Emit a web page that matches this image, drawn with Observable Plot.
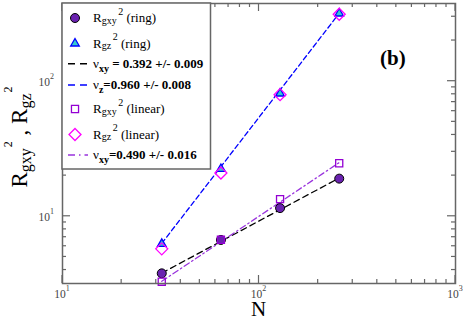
<!DOCTYPE html>
<html><head><meta charset="utf-8">
<script src="https://cdn.jsdelivr.net/npm/d3@7"></script>
<script src="https://cdn.jsdelivr.net/npm/@observablehq/plot@0.6"></script>
<style>
html,body{margin:0;padding:0;background:#fff;}
#chart{width:463px;height:320px;}
svg{display:block;}
</style></head><body><div id="chart"></div>
<script>
// ---- data ----
const N = [32, 64, 128, 256];
const rgxyRing = [3.78, 6.68, 11.5, 19.0];
const rgzRing = [6.25, 22.4, 81.1, 317];
const rgxyLinear = [3.28, 6.7, 13.4, 24.7];
const rgzLinear = [5.74, 20.9, 79.5, 313];
const fitN = [32, 256];
const fitXyRing = [3.8, 19.2];
const fitZRing = [6.3, 318];
const fitXyLinear = [3.3, 25.0];
const xMajor = [10, 100, 1000];
const xExp = ["1", "2", "3"];
const yMajor = [10, 100];
const yExp = ["1", "2"];
const legendText = [
  ["R", "gxy", "2", " (ring)"],
  ["R", "gz", "2", " (ring)"],
  ["\u03bd", "xy", " = 0.392 +/- 0.009"],
  ["\u03bd", "z", "=0.960 +/- 0.008"],
  ["R", "gxy", "2", " (linear)"],
  ["R", "gz", "2", " (linear)"],
  ["\u03bd", "xy", "=0.490 +/- 0.016"]
];

const rows = ys => N.map((n, i) => ({N: n, R: ys[i]}));
const fit = ys => fitN.map((n, i) => ({N: n, R: ys[i]}));
const serif = "'Liberation Serif','Times New Roman',serif";

const C = {circle: "#6a22b0", tri: "#33cccc", blue: "#0000ff", sq: "#9400d3", dia: "#ff00ff", dd: "#9933dd"};

const chart = Plot.plot({
  width: 463, height: 320,
  marginLeft: 62, marginRight: 8, marginTop: 3, marginBottom: 37,
  x: {type: "log", domain: [10, 1000], axis: null},
  y: {type: "log", domain: [3.18, 376], axis: null},
  style: {background: "white", fontFamily: serif},
  marks: [
    Plot.line(fit(fitXyRing), {x: "N", y: "R", stroke: "black", strokeWidth: 1.3, strokeDasharray: "6,4"}),
    Plot.line(fit(fitZRing), {x: "N", y: "R", stroke: C.blue, strokeWidth: 1.3, strokeDasharray: "5,3"}),
    Plot.line(fit(fitXyLinear), {x: "N", y: "R", stroke: C.dd, strokeWidth: 1.3, strokeDasharray: "6,3,1.5,3"}),
    Plot.dot(rows(rgxyRing), {x: "N", y: "R", r: 4.5, fill: C.circle, stroke: "black", strokeWidth: 1}),
    Plot.dot(rows(rgzRing), {x: "N", y: "R", symbol: "triangle", r: 3.2, fill: C.tri, stroke: C.blue, strokeWidth: 1.3}),
    Plot.dot(rows(rgxyLinear), {x: "N", y: "R", symbol: "square", r: 4, fill: "none", stroke: C.sq, strokeWidth: 1.3}),
    Plot.dot(rows(rgzLinear), {x: "N", y: "R", symbol: "diamond2", r: 5.4, fill: "none", stroke: C.dia, strokeWidth: 1.3}),
    Plot.frame({stroke: "#666", strokeWidth: 1.5})
  ]
});
document.getElementById("chart").appendChild(chart);

const svg = d3.select(chart);
const sx = v => chart.scale("x").apply(v);
const sy = v => chart.scale("y").apply(v);
const xd = chart.scale("x").domain, yd = chart.scale("y").domain;
const X0 = sx(xd[0]), X1 = sx(xd[1]), Y1 = sy(yd[0]), Y0 = sy(yd[1]);

// ticks (inward, all four sides)
const tg = svg.append("g").attr("stroke", "#666").attr("stroke-width", 1.2);
const minorOf = (lo, hi) => { const out = []; for (let e = Math.floor(Math.log10(lo)); e <= Math.ceil(Math.log10(hi)); e++) for (let k = 2; k <= 9; k++) { const v = k * Math.pow(10, e); if (v > lo && v < hi) out.push(v); } return out; };
const xt = xMajor.map(v => [v, 8]).concat(minorOf(xd[0], xd[1]).map(v => [v, 4]));
xt.forEach(([v, L]) => {
  const x = sx(v);
  tg.append("line").attr("x1", x).attr("x2", x).attr("y1", Y1).attr("y2", Y1 - L);
  tg.append("line").attr("x1", x).attr("x2", x).attr("y1", Y0).attr("y2", Y0 + L);
});
const yt = yMajor.map(v => [v, 8]).concat(minorOf(yd[0], yd[1]).map(v => [v, 4]));
yt.forEach(([v, L]) => {
  const y = sy(v);
  tg.append("line").attr("y1", y).attr("y2", y).attr("x1", X0).attr("x2", X0 + L);
  tg.append("line").attr("y1", y).attr("y2", y).attr("x1", X1).attr("x2", X1 - L);
});

// tick labels
xMajor.forEach((v, i) => {
  const t = svg.append("text").attr("x", sx(v)).attr("y", Y1 + 15).attr("text-anchor", "middle")
    .attr("font-family", serif).attr("font-size", 11.5).attr("fill", "#444");
  t.append("tspan").text("10");
  t.append("tspan").attr("font-size", 8).attr("dy", -7).text(xExp[i]);
});
yMajor.forEach((v, i) => {
  const t = svg.append("text").attr("x", X0 - 8).attr("y", sy(v) + 5.5).attr("text-anchor", "end")
    .attr("font-family", serif).attr("font-size", 11.5).attr("fill", "#444");
  t.append("tspan").text("10");
  t.append("tspan").attr("font-size", 8).attr("dy", -7).text(yExp[i]);
});

// axis titles
svg.append("text").attr("x", sx(100)).attr("y", 315.5).attr("text-anchor", "middle")
  .attr("font-family", serif).attr("font-size", 21).attr("fill", "black").text("N");
const yl = svg.append("text").attr("transform", "translate(27,137) rotate(-90)").attr("text-anchor", "middle")
  .attr("font-family", serif).attr("font-size", 23).attr("fill", "black");
yl.append("tspan").text("R");
yl.append("tspan").attr("font-size", 16).attr("dy", 3.5).text("gxy");
yl.append("tspan").attr("font-size", 12).attr("dy", -19).attr("dx", 1).text("2");
yl.append("tspan").attr("dy", 15.5).text(" , R");
yl.append("tspan").attr("font-size", 16).attr("dy", 3.5).text("gz");
yl.append("tspan").attr("font-size", 12).attr("dy", -19).attr("dx", 1).text("2");

// panel label
svg.append("text").attr("x", 380).attr("y", 65).attr("text-anchor", "start").attr("font-family", serif).attr("font-weight", "bold")
  .attr("font-size", 21).attr("fill", "black").text("(b)");

// legend
const lg = svg.append("g");
lg.append("rect").attr("x", X0).attr("y", Y0).attr("width", 148.5).attr("height", 166)
  .attr("fill", "white").attr("stroke", "#666").attr("stroke-width", 1.5);
const rowY = [18, 43.5, 63.7, 85, 109, 134.5, 155];
const sym = (type, r) => d3.symbol(type, Math.PI * r * r)();
lg.append("circle").attr("cx", 75).attr("cy", rowY[0]).attr("r", 4.5).attr("fill", C.circle).attr("stroke", "black");
lg.append("path").attr("d", sym(d3.symbolTriangle, 3.2)).attr("transform", `translate(75,${rowY[1]})`)
  .attr("fill", C.tri).attr("stroke", C.blue).attr("stroke-width", 1.3);
lg.append("line").attr("x1", 68).attr("x2", 87).attr("y1", rowY[2]).attr("y2", rowY[2]).attr("stroke", "black").attr("stroke-width", 1.5).attr("stroke-dasharray", "7,5");
lg.append("line").attr("x1", 68).attr("x2", 87).attr("y1", rowY[3]).attr("y2", rowY[3]).attr("stroke", C.blue).attr("stroke-width", 1.5).attr("stroke-dasharray", "7,5");
lg.append("path").attr("d", sym(d3.symbolSquare, 4)).attr("transform", `translate(75,${rowY[4]})`)
  .attr("fill", "none").attr("stroke", C.sq).attr("stroke-width", 1.3);
lg.append("path").attr("d", sym(d3.symbolDiamond2, 5.4)).attr("transform", `translate(75,${rowY[5]})`)
  .attr("fill", "none").attr("stroke", C.dia).attr("stroke-width", 1.3);
lg.append("line").attr("x1", 68).attr("x2", 88).attr("y1", rowY[6]).attr("y2", rowY[6]).attr("stroke", C.dd).attr("stroke-width", 1.5).attr("stroke-dasharray", "7,4,1.5,4");

legendText.forEach((parts, i) => {
  const t = lg.append("text").attr("x", 93).attr("y", rowY[i] + 4.3).attr("text-anchor", "start").attr("font-family", serif)
    .attr("font-size", 13).attr("fill", "black");
  if (parts.length === 4) {
    t.append("tspan").text(parts[0]);
    t.append("tspan").attr("font-size", 10).attr("dy", 1.5).text(parts[1]);
    t.append("tspan").attr("font-size", 10).attr("dy", -9).attr("dx", 1.5).text(parts[2]);
    t.append("tspan").attr("dy", 7.5).text(parts[3]);
  } else {
    t.append("tspan").text(parts[0]);
    t.append("tspan").attr("font-size", 10).attr("font-weight", "bold").attr("dy", 3.5).text(parts[1]);
    t.append("tspan").attr("font-weight", "bold").attr("dy", -3.5).text(parts[2]);
  }
});
</script></body></html>
